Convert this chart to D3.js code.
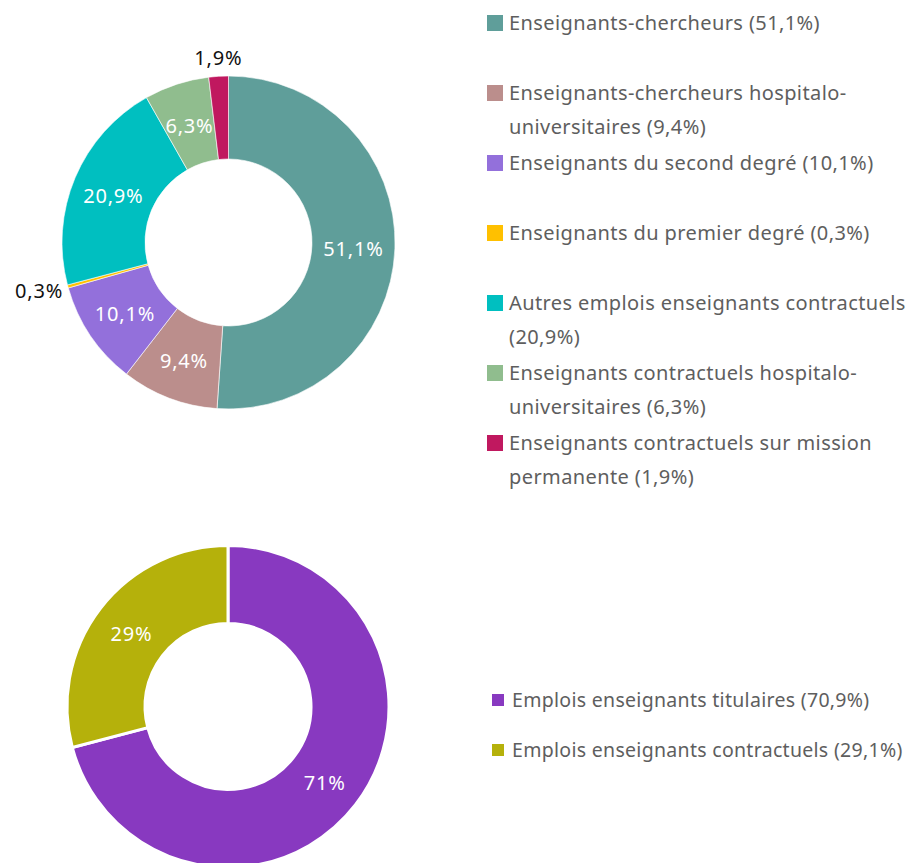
<!DOCTYPE html>
<html>
<head>
<meta charset="utf-8">
<script src="https://cdn.jsdelivr.net/npm/d3@7"></script>
<style>
  html, body { margin: 0; padding: 0; background: #fff; }
  svg { display: block; font-family: "Noto Sans", "Open Sans", sans-serif; }
  .legend text { fill: #5e5e5e; font-size: 20px; letter-spacing: 0.4px; }
  .legend.small text { font-size: 19.5px; letter-spacing: 0.3px; }
  .pct { font-size: 20px; letter-spacing: 0.8px; }
</style>
</head>
<body>
<svg id="chart" width="914" height="863"></svg>
<script>
'use strict';

// top donut : types of teaching jobs
var topCategories = [
    "Enseignants-chercheurs",
    "Enseignants-chercheurs hospitalo-universitaires",
    "Enseignants du second degré",
    "Enseignants du premier degré",
    "Autres emplois enseignants contractuels",
    "Enseignants contractuels hospitalo-universitaires",
    "Enseignants contractuels sur mission permanente"
];
var topValues = [51.1, 9.4, 10.1, 0.3, 20.9, 6.3, 1.9];
var topColors = ["#5f9e9a", "#bb8e8c", "#9370db", "#ffc000", "#00bfc0", "#90bd8e", "#c0185f"];
var topOutside = [false, false, false, true, false, false, true];

// bottom donut : titulaires vs contractuels
var bottomCategories = ["Emplois enseignants titulaires", "Emplois enseignants contractuels"];
var bottomValues = [70.9, 29.1];
var bottomSliceLabels = ["71%", "29%"];
var bottomColors = ["#8839c0", "#b5b10b"];

var svg = d3.select("#chart");

function fmt(v) {
    return String(v).replace(".", ",") + "%";
}

function drawDonut(opts) {
    var pie = d3.pie().sort(null).value(function(d) { return d.value; });
    var arc = d3.arc().innerRadius(opts.inner).outerRadius(opts.outer);
    var g = svg.append("g").attr("transform", "translate(" + opts.cx + "," + opts.cy + ")");

    var arcs = pie(opts.data);

    g.selectAll("path")
        .data(arcs)
        .enter()
        .append("path")
        .attr("d", arc)
        .attr("fill", function(d) { return d.data.color; })
        .attr("stroke", "#fff")
        .attr("stroke-width", opts.strokeWidth);

    arcs.forEach(function(d) {
        var label = d.data.label;
        if (d.data.outside) {
            var a = (d.startAngle + d.endAngle) / 2;
            var r = opts.outer + 5;
            var x = Math.sin(a) * r, y = -Math.cos(a) * r;
            var nearVertical = Math.abs(Math.sin(a)) < 0.4;
            var anchor = nearVertical ? "middle" : (Math.sin(a) < 0 ? "end" : "start");
            var dy = nearVertical ? (y < 0 ? "-0.3em" : "0.9em") : "0.5em";
            g.append("text")
                .attr("class", "pct")
                .attr("x", x)
                .attr("y", y)
                .attr("dy", dy)
                .attr("text-anchor", anchor)
                .attr("fill", "#111")
                .text(label);
        } else {
            var c = arc.centroid(d);
            g.append("text")
                .attr("class", "pct")
                .attr("x", c[0])
                .attr("y", c[1])
                .attr("dy", "0.45em")
                .attr("text-anchor", "middle")
                .attr("fill", "#fff")
                .text(label);
        }
    });
}

// split a label in lines, breaking on spaces and after hyphens
function wrapLines(textEl, str, maxWidth) {
    var tokens = str.match(/[^\s-]+-?|\s+/g);
    var lines = [], cur = "";
    tokens.forEach(function(t) {
        if (/^\s+$/.test(t)) { cur += " "; return; }
        var test = cur + t;
        textEl.text(test);
        if (cur.trim() !== "" && textEl.node().getComputedTextLength() > maxWidth) {
            lines.push(cur.trim());
            cur = t;
        } else {
            cur = test;
        }
    });
    lines.push(cur.trim());
    textEl.text(null);
    return lines;
}

function drawLegend(opts) {
    var lg = svg.append("g").attr("class", "legend " + (opts.cls || ""));
    opts.items.forEach(function(item, i) {
        var y = opts.y0 + i * opts.step;
        lg.append("rect")
            .attr("x", opts.x)
            .attr("y", y - opts.box / 2)
            .attr("width", opts.box)
            .attr("height", opts.box)
            .attr("fill", item.color);
        var t = lg.append("text").attr("x", opts.textX).attr("y", y);
        var lines = wrapLines(t, item.text, opts.maxWidth);
        lines.forEach(function(line, j) {
            t.append("tspan")
                .attr("x", opts.textX)
                .attr("y", y + j * opts.lineHeight)
                .attr("dy", "0.35em")
                .text(line);
        });
    });
}

drawDonut({
    cx: 228.5, cy: 242.5, inner: 83.5, outer: 166.5, strokeWidth: 0.6,
    data: topValues.map(function(v, i) {
        return { value: v, color: topColors[i], label: fmt(v), outside: topOutside[i] };
    })
});

drawDonut({
    cx: 228, cy: 706.5, inner: 83, outer: 161, strokeWidth: 3,
    data: bottomValues.map(function(v, i) {
        return { value: v, color: bottomColors[i], label: bottomSliceLabels[i], outside: false };
    })
});

drawLegend({
    x: 487, textX: 509, y0: 23, step: 70, box: 16, lineHeight: 34, maxWidth: 405,
    items: topCategories.map(function(c, i) {
        return { text: c + " (" + fmt(topValues[i]) + ")", color: topColors[i] };
    })
});

drawLegend({
    cls: "small",
    x: 492, textX: 512, y0: 700, step: 50, box: 12, lineHeight: 34, maxWidth: 420,
    items: bottomCategories.map(function(c, i) {
        return { text: c + " (" + fmt(bottomValues[i]) + ")", color: bottomColors[i] };
    })
});
</script>
</body>
</html>
